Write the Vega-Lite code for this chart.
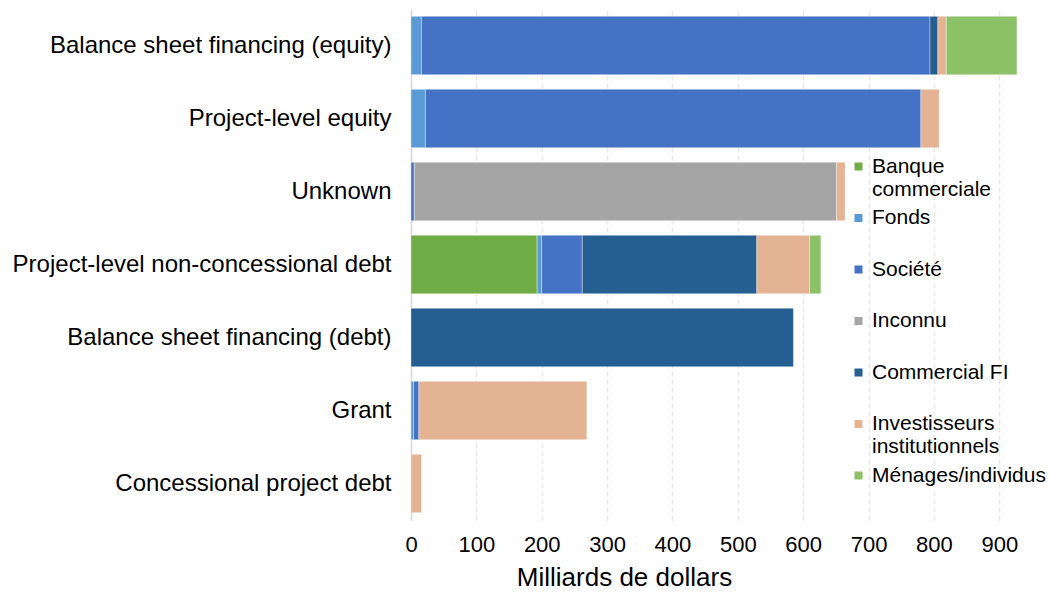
{
  "$schema": "https://vega.github.io/schema/vega-lite/v6.json",
  "width": 621,
  "height": 511,
  "autosize": {"type": "none"},
  "padding": {"left": 411, "top": 9, "right": 18, "bottom": 72},
  "background": "white",
  "config": {
    "font": "Liberation Sans",
    "view": {"stroke": null}
  },
  "data": {
    "values": [
      {"cat": "Balance sheet financing (equity)", "src": "Fonds", "o": 2, "v": 16},
      {"cat": "Balance sheet financing (equity)", "src": "Société", "o": 3, "v": 778},
      {"cat": "Balance sheet financing (equity)", "src": "Commercial FI", "o": 5, "v": 12},
      {"cat": "Balance sheet financing (equity)", "src": "Investisseurs institutionnels", "o": 6, "v": 13},
      {"cat": "Balance sheet financing (equity)", "src": "Ménages/individus", "o": 7, "v": 108},
      {"cat": "Project-level equity", "src": "Fonds", "o": 2, "v": 22},
      {"cat": "Project-level equity", "src": "Société", "o": 3, "v": 758},
      {"cat": "Project-level equity", "src": "Investisseurs institutionnels", "o": 6, "v": 28},
      {"cat": "Unknown", "src": "Société", "o": 3, "v": 5},
      {"cat": "Unknown", "src": "Inconnu", "o": 4, "v": 646},
      {"cat": "Unknown", "src": "Investisseurs institutionnels", "o": 6, "v": 13},
      {"cat": "Project-level non-concessional debt", "src": "Banque commerciale", "o": 1, "v": 193},
      {"cat": "Project-level non-concessional debt", "src": "Fonds", "o": 2, "v": 7},
      {"cat": "Project-level non-concessional debt", "src": "Société", "o": 3, "v": 62},
      {"cat": "Project-level non-concessional debt", "src": "Commercial FI", "o": 5, "v": 267},
      {"cat": "Project-level non-concessional debt", "src": "Investisseurs institutionnels", "o": 6, "v": 81},
      {"cat": "Project-level non-concessional debt", "src": "Ménages/individus", "o": 7, "v": 17},
      {"cat": "Balance sheet financing (debt)", "src": "Commercial FI", "o": 5, "v": 585},
      {"cat": "Grant", "src": "Fonds", "o": 2, "v": 4},
      {"cat": "Grant", "src": "Société", "o": 3, "v": 8},
      {"cat": "Grant", "src": "Investisseurs institutionnels", "o": 6, "v": 257},
      {"cat": "Concessional project debt", "src": "Investisseurs institutionnels", "o": 6, "v": 16}
    ]
  },
  "mark": {"type": "bar", "stroke": "white", "strokeWidth": 0.6, "strokeOpacity": 0.6},
  "encoding": {
    "y": {
      "field": "cat",
      "type": "nominal",
      "sort": ["Balance sheet financing (equity)", "Project-level equity", "Unknown", "Project-level non-concessional debt", "Balance sheet financing (debt)", "Grant", "Concessional project debt"],
      "scale": {"paddingInner": 0.2, "paddingOuter": 0.1},
      "axis": {
        "title": null,
        "ticks": false,
        "labelFontSize": 24,
        "labelColor": "#000000",
        "labelPadding": 20,
        "labelLimit": 420,
        "domainColor": "#d9d9d9",
        "domainWidth": 1.5,
        "grid": false
      }
    },
    "x": {
      "field": "v",
      "type": "quantitative",
      "stack": "zero",
      "scale": {"domain": [0, 950], "nice": false},
      "axis": {
        "title": "Milliards de dollars",
        "values": [0, 100, 200, 300, 400, 500, 600, 700, 800, 900],
        "ticks": false,
        "domain": false,
        "grid": true,
        "gridColor": "#e8e8e8",
        "gridDash": [5, 3],
        "gridWidth": 1.5,
        "labelFontSize": 22,
        "labelColor": "#000000",
        "labelPadding": 14,
        "labelFlush": false,
        "titleFontSize": 26,
        "titleFontWeight": "normal",
        "titleColor": "#000000",
        "titlePadding": 9,
        "titleX": 213,
        "titleAnchor": "middle"
      }
    },
    "color": {
      "field": "src",
      "type": "nominal",
      "sort": ["Banque commerciale", "Fonds", "Société", "Inconnu", "Commercial FI", "Investisseurs institutionnels", "Ménages/individus"],
      "scale": {
        "domain": ["Banque commerciale", "Fonds", "Société", "Inconnu", "Commercial FI", "Investisseurs institutionnels", "Ménages/individus"],
        "range": ["#70AD47", "#5B9BD5", "#4472C4", "#A5A5A5", "#255E91", "#E4B393", "#8CC168"]
      },
      "legend": {
        "title": null,
        "orient": "none",
        "legendX": 437,
        "legendY": 147,
        "padding": 0,
        "symbolType": "square",
        "symbolSize": 64,
        "symbolStrokeWidth": 0,
        "labelFontSize": 21,
        "labelColor": "#000000",
        "labelOffset": 3,
        "labelLimit": 300,
        "labelBaseline": "middle",
        "labelExpr": "datum.label == 'Banque commerciale' ? ['Banque', 'commerciale'] : datum.label == 'Investisseurs institutionnels' ? ['Investisseurs', 'institutionnels'] : datum.label",
        "gridAlign": "all",
        "rowPadding": 6.5
      }
    },
    "order": {"field": "o", "type": "quantitative", "sort": "ascending"}
  }
}
